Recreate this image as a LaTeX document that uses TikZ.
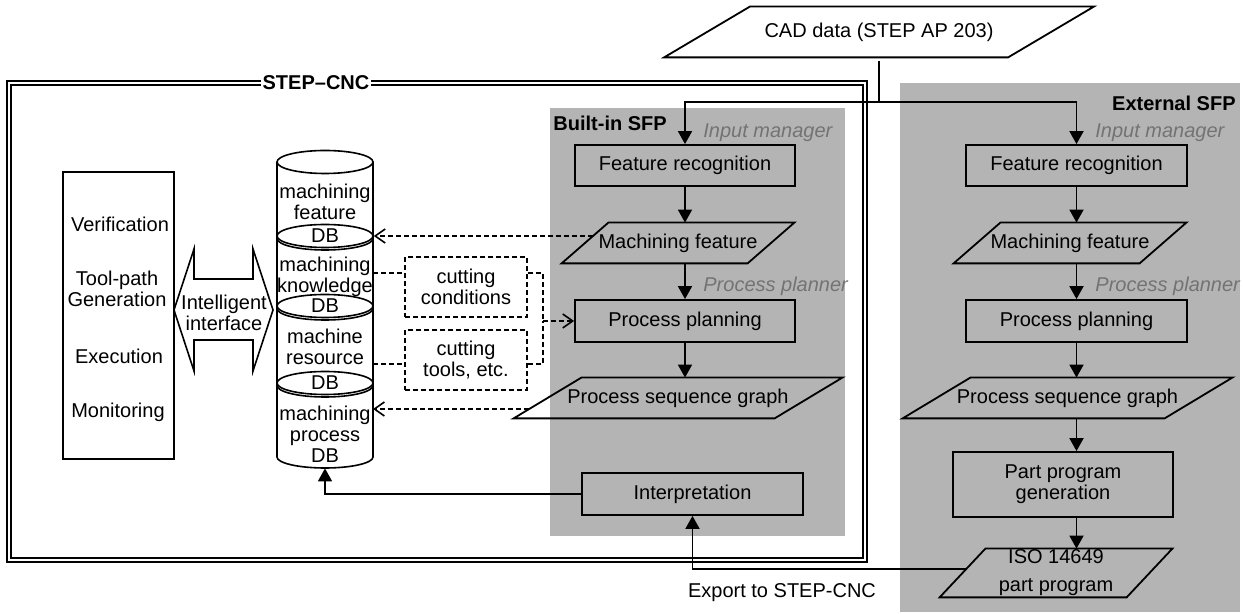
\documentclass[tikz,border=0pt]{standalone}
\usepackage{fontspec}
\setmainfont{Liberation Sans}
\usetikzlibrary{arrows.meta,shapes.geometric}
\definecolor{panelgray}{RGB}{180,180,180}
\definecolor{rolegray}{RGB}{115,115,115}

\begin{document}
\begin{tikzpicture}[x=0.5pt,y=-0.5pt,font=\fontsize{10}{10.5}\selectfont,
  box/.style={draw,line width=0.9pt,inner sep=0pt,align=center},
  datashape/.style={inner sep=0pt,align=center,minimum height=20pt},
  flow/.style={line width=0.9pt,-{Triangle[length=6.5pt,width=7pt]}},
  dashline/.style={line width=0.8pt,dash pattern=on 2.5pt off 1.5pt},
  dasharrow/.style={dashline,-{Straight Barb[length=5pt,width=7pt]}},
  dbdisk/.style={draw,ellipse,line width=0.8pt,fill=white,inner sep=0pt,minimum width=48pt,minimum height=11.5pt},
  role/.style={font=\fontsize{10}{10.5}\selectfont\itshape,text=rolegray,anchor=west,inner sep=0pt},
  panel/.style={font=\fontsize{10}{10.5}\selectfont\bfseries,inner sep=0pt}]
\useasboundingbox (0,0) rectangle (1243,614);

% SFP panels
\fill[panelgray] (550,108) rectangle (845,536);
\fill[panelgray] (900,83) rectangle (1240,612);
\node[panel,anchor=west] (builtin) at (553,123) {Built-in SFP};
\node[panel,anchor=east] (external) at (1236,103) {External SFP};

% STEP-CNC frame
\draw[double,line width=0.8pt,double distance=1.2pt] (9,83) rectangle (865,560);
\node[fill=white,inner sep=1pt,font=\fontsize{10}{10.5}\selectfont\bfseries] (cnc) at (316,83) {STEP–CNC};

% CAD input
\node[datashape,minimum width=214.5pt,minimum height=25pt] (cad) at (879,32) {CAD data (STEP AP 203)};
\draw[line width=0.9pt] (cad.south west) -- ++(344,0) -- (cad.north east) -- ++(-344,0) -- cycle;
\coordinate (split) at (879,102);

% built-in SFP
\node[role] at (703,133) {Input manager};
\node[box,minimum width=110pt,minimum height=20.5pt] (fr1) at (685,165.5) {Feature recognition};
\node[datashape,minimum width=116pt] (mf1) at (678,243) {Machining feature};
\draw[line width=0.9pt] (mf1.south west) -- ++(186,0) -- (mf1.north east) -- ++(-186,0) -- cycle;
\node[role] at (703,286) {Process planner};
\node[box,minimum width=110pt,minimum height=21pt] (pp1) at (685,321) {Process planning};
\node[datashape,minimum width=164pt] (psg1) at (678,398) {Process sequence graph};
\draw[line width=0.9pt] (psg1.south west) -- ++(261,0) -- (psg1.north east) -- ++(-261,0) -- cycle;
\node[box,minimum width=110.5pt,minimum height=21pt] (interp) at (692.5,494) {Interpretation};

% external SFP
\node[role] at (1095,133) {Input manager};
\node[box,minimum width=110.5pt,minimum height=20.5pt] (fr2) at (1076.5,165.5) {Feature recognition};
\node[datashape,minimum width=116pt] (mf2) at (1070,243) {Machining feature};
\draw[line width=0.9pt] (mf2.south west) -- ++(186,0) -- (mf2.north east) -- ++(-186,0) -- cycle;
\node[role] at (1095,286) {Process planner};
\node[box,minimum width=110.5pt,minimum height=21pt] (pp2) at (1076.5,321) {Process planning};
\node[datashape,minimum width=164.5pt] (psg2) at (1067.5,398) {Process sequence graph};
\draw[line width=0.9pt] (psg2.south west) -- ++(262,0) -- (psg2.north east) -- ++(-262,0) -- cycle;
\node[box,minimum width=110pt,minimum height=32.5pt] (ppg2) at (1063,484.5) {Part program\\generation};
\node[datashape,minimum width=116pt,minimum height=24pt] (iso2) at (1056,573) {ISO 14649\\[3.5pt]part program};
\draw[line width=0.9pt] (iso2.south west) -- ++(187,0) -- (iso2.north east) -- ++(-187,0) -- cycle;

% controller functions
\node[box,minimum width=55.5pt,minimum height=143.5pt] (ops) at (118.5,315.5) {};
\node (verif) at (120,224) {Verification};
\node[align=center] (toolpath) at (117,288.5) {Tool-path\\Generation};
\node (exec) at (119,356) {Execution};
\node (monit) at (118,412) {Monitoring};

% intelligent interface
\draw[line width=0.8pt] (174,310) -- (194,249) -- (194,279) -- (253,279) -- (253,249) -- (273,310)
  -- (253,371) -- (253,340) -- (194,340) -- (194,371) -- cycle;
\node[align=center] (iface) at (224,313) {Intelligent\\interface};

% database cylinder
\node[inner sep=0pt,minimum width=48pt,minimum height=159pt] (cyl) at (325,309) {};
\draw[line width=0.8pt] (277,162) -- (277,457) arc[start angle=180,end angle=360,x radius=24pt,y radius=5.5pt] -- (373,162);
\draw[line width=0.8pt] (325,162) ellipse[x radius=24pt,y radius=5.75pt];
\foreach \y in {236,306,383}
  \draw[line width=0.8pt,fill=white] (325,\y+2.5) ellipse[x radius=24pt,y radius=5.75pt];
\node[dbdisk] (db1) at (325,236) {DB};
\node[dbdisk] (db2) at (325,306) {DB};
\node[dbdisk] (db3) at (325,383) {DB};
\node[align=center] (mfeat) at (325,201.5) {machining\\feature};
\node[align=center] (mknow) at (325,276.5) {machining\\knowledge};
\node[align=center] (mres) at (325,347) {machine\\resource};
\node[align=center] (mproc) at (325,434) {machining\\process\\DB};
\coordinate (cylmk) at (373,273);
\coordinate (cylmr) at (373,364);
\coordinate (cylmp) at (373,409);

% cutting data
\node[draw,dashline,minimum width=61pt,minimum height=30pt,align=center] (cc) at (466,287) {cutting\\conditions};
\node[draw,dashline,minimum width=61pt,minimum height=30pt,align=center] (ct) at (466,360) {cutting\\tools, etc.};
\coordinate (jn) at (543,321);

% flows
\draw[line width=0.9pt,shorten <=2pt] (cad.south) -- (split);
\draw[flow] (split) -| (fr1.north);
\draw[flow] (split) -| (fr2.north);
\draw[flow] (fr1.south) -- (fr1.south |- mf1.north);
\draw[flow] (pp1.north |- mf1.south) -- (pp1.north);
\draw[flow] (pp1.south) -- (pp1.south |- psg1.north);
\draw[flow] (fr2.south) -- (fr2.south |- mf2.north);
\draw[flow] (pp2.north |- mf2.south) -- (pp2.north);
\draw[flow] (pp2.south) -- (pp2.south |- psg2.north);
\draw[flow] (pp2.south |- psg2.south) -- (pp2.south |- ppg2.north);
\draw[flow] (pp2.south |- ppg2.south) -- (pp2.south |- iso2.north);
\draw[flow] (interp.west) -| (cyl.south);
\coordinate (isoin) at (966,569);
\draw[flow] (isoin) -| (interp.south);
\node (export) at (782,593) {Export to STEP-CNC};

% dashed links
\coordinate (mfin) at (593,236);
\coordinate (psgin) at (529,409);
\draw[dasharrow] (mfin) -- (db1.east);
\draw[dasharrow] (psgin) -- (cylmp);
\draw[dashline] (cylmk) -- (cylmk -| cc.west);
\draw[dashline] (cylmr) -- (cylmr -| ct.west);
\draw[dashline] (cylmk -| cc.east) -| (jn);
\draw[dashline] (cylmr -| ct.east) -| (jn);
\draw[dasharrow] (jn) -- (pp1.west);
\end{tikzpicture}
\end{document}
